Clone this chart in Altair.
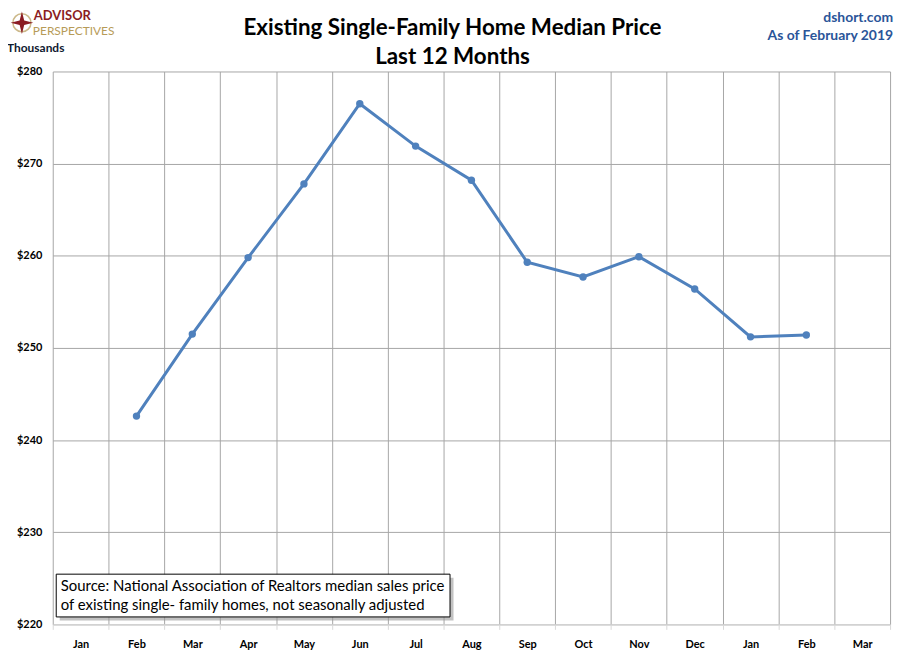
import altair as alt
import pandas as pd

# months shown on the axis (15 bands, Jan 2018 .. Mar 2019)
months = ['Jan 2018', 'Feb 2018', 'Mar 2018', 'Apr 2018', 'May 2018', 'Jun 2018',
          'Jul 2018', 'Aug 2018', 'Sep 2018', 'Oct 2018', 'Nov 2018', 'Dec 2018',
          'Jan 2019', 'Feb 2019', 'Mar 2019']
obs_months = months[1:14]
prices = [242.6, 251.5, 259.8, 267.8, 276.5, 271.9, 268.2, 259.3, 257.7, 259.9, 256.4, 251.2, 251.4]

title_lines = ['Existing Single-Family Home Median Price', 'Last 12 Months']
source_lines = ['Source: National Association of Realtors median sales price',
                'of existing single- family homes, not seasonally adjusted']

W, H = 842, 556
BLUE = '#4F81BD'
FONT = 'Lato'

df = pd.DataFrame({'month': obs_months, 'price': prices})

x = alt.X('month:N', scale=alt.Scale(domain=months, paddingInner=0, paddingOuter=0),
          axis=alt.Axis(title=None, labelAngle=0, tickBand='extent', grid=True,
                        gridColor='#A6A6A6', domainColor='#D9D9D9', tickColor='#D9D9D9',
                        tickSize=5, labelPadding=9, labelFont=FONT, labelFontSize=11,
                        labelFontWeight='bold', labelColor='#000',
                        labelExpr="split(datum.label, ' ')[0]"))
y = alt.Y('price:Q', scale=alt.Scale(domain=[220, 280], nice=False, zero=False),
          axis=alt.Axis(title=None, values=[220, 230, 240, 250, 260, 270, 280],
                        gridColor='#A6A6A6', domain=False, ticks=False, labelPadding=11,
                        labelFont=FONT, labelFontSize=11, labelFontWeight='bold',
                        labelColor='#000', labelExpr="'$' + datum.value"))

line = alt.Chart(df).mark_line(color=BLUE, strokeWidth=3).encode(x=x, y=y)
pts = alt.Chart(df).mark_point(color=BLUE, filled=True, opacity=1, size=55).encode(x=x, y=y)


def label(text, px, py, **kw):
    return alt.Chart(pd.DataFrame({'t': [text]})).mark_text(**kw).encode(
        text='t:N', x=alt.value(px), y=alt.value(py))


title = alt.layer(
    label(title_lines[0], 402, -44, font=FONT, fontSize=22.5, fontWeight='bold', color='#000'),
    label(title_lines[1], 402, -15, font=FONT, fontSize=22.5, fontWeight='bold', color='#000'),
    label('dshort.com', 845, -54, font=FONT, fontSize=14, fontWeight='bold', color='#2A5599', align='right'),
    label('As of February 2019', 845, -36, font=FONT, fontSize=14, fontWeight='bold', color='#2A5599', align='right'),
    label('Thousands', -46, -24, font=FONT, fontSize=12, fontWeight='bold', color='#0F1A30', align='left'),
    label('ADVISOR', -19, -52, font=FONT, fontSize=13, fontWeight='bold', color='#8B1C23',
          align='left', baseline='alphabetic'),
    label('PERSPECTIVES', -20, -37, font=FONT, fontSize=12, color='#B79B58', align='left',
          baseline='alphabetic'),
)

# compass-rose logo
star = 'M0,-1L0.2,-0.2L1,0L0.2,0.2L0,1L-0.2,0.2L-1,0L-0.2,-0.2Z'
logo = alt.layer(
    alt.Chart(pd.DataFrame({'a': [0]})).mark_point(shape='circle', size=330, color='#B79B58',
                                                   strokeWidth=1.5).encode(x=alt.value(-31), y=alt.value(-49)),
    alt.Chart(pd.DataFrame({'a': [0]})).mark_point(shape=star, size=520, filled=True, opacity=1,
                                                   color='#8B1C23').encode(x=alt.value(-31), y=alt.value(-49)),
)

box_df = pd.DataFrame({'a': [0]})
shadow = alt.Chart(box_df).mark_rect(color='#9A9A9A', opacity=0.6).encode(
    x=alt.value(7), x2=alt.value(403), y=alt.value(509), y2=alt.value(552))
box = alt.Chart(box_df).mark_rect(fill='white', stroke='#000', strokeWidth=1).encode(
    x=alt.value(3.5), x2=alt.value(399.5), y=alt.value(505.5), y2=alt.value(548.5))
source = alt.layer(
    label(source_lines[0], 8, 517, font=FONT, fontSize=15, color='#000', align='left'),
    label(source_lines[1], 8, 537, font=FONT, fontSize=15, color='#000', align='left'),
)

chart = alt.layer(line, pts, title, logo, shadow, box, source).properties(
    width=W, height=H,
    autosize=alt.AutoSizeParams(type='none'),
    padding={'left': 45, 'top': 62, 'right': 12, 'bottom': 36},
    background='white',
).configure_view(stroke=None)

chart.save('out.html', embed_options={'renderer': 'svg', 'actions': False})
